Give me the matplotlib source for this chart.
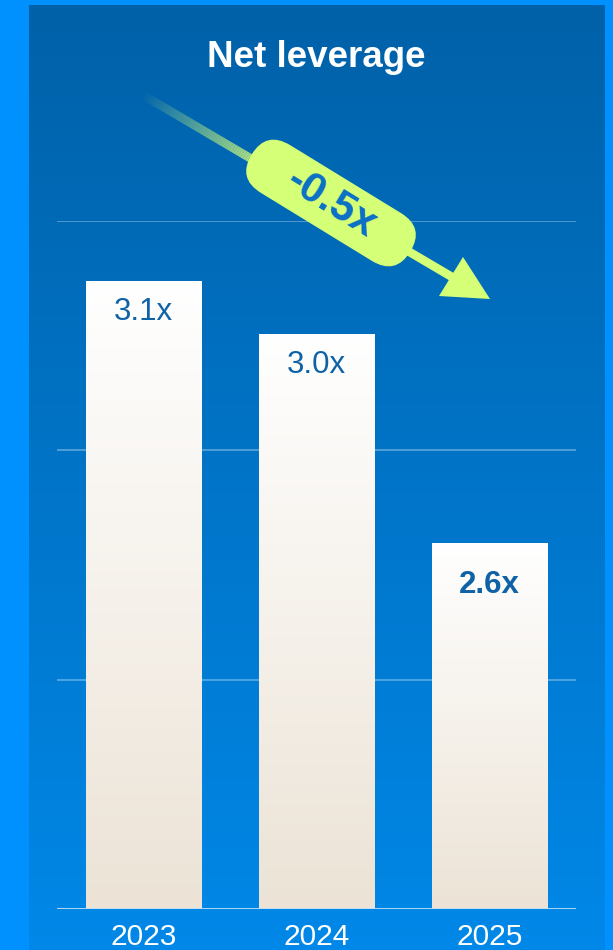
import numpy as np
import matplotlib
matplotlib.use("Agg")
import matplotlib.pyplot as plt
from matplotlib.patches import FancyBboxPatch, Polygon
from matplotlib.collections import LineCollection
from matplotlib.lines import Line2D
from matplotlib.transforms import Affine2D
from matplotlib.colors import LinearSegmentedColormap

plt.rcParams['font.family'] = ['Liberation Sans', 'DejaVu Sans']

years = ["2023", "2024", "2025"]
leverage = [3.1, 3.0, 2.6]
labels = ["3.1x", "3.0x", "2.6x"]
bold_label = [False, False, True]
change_label = "-0.5x"
title = "Net leverage"

W, H = 613, 950
fig = plt.figure(figsize=(W/100, H/100), dpi=100)
fig.patch.set_facecolor("#0091FF")

# pixel coords (x right, y down) -> figure
px = Affine2D().scale(1, -1).translate(0, H).scale(1/W, 1/H) + fig.transFigure

# background panel with vertical gradient
bg = fig.add_axes([29/W, 0, (605-29)/W, (H-5)/H])
bg.set_axis_off()
bg_cmap = LinearSegmentedColormap.from_list("bg", ["#0088E8", "#0061A8"])
bg.imshow(np.linspace(0, 1, 256)[:, None], cmap=bg_cmap, aspect="auto",
          origin="lower", extent=(0, 1, 0, 1))

# chart axes
ymin, ymax = 1.903, 3.215
ax = fig.add_axes([57/W, (H-909)/H, (576-57)/W, (909-221)/H])
ax.set_facecolor("none")
x = np.arange(len(years))
bars = ax.bar(x, np.array(leverage) - ymin, bottom=ymin, width=0.67,
              color="none", edgecolor="none", zorder=3)

bar_cmap = LinearSegmentedColormap.from_list("bar", ["#ECE3D6", "#FFFFFF"])
for b, v in zip(bars, leverage):
    x0 = b.get_x()
    im = ax.imshow(np.linspace(0, 1, 256)[:, None], cmap=bar_cmap, aspect="auto",
                   origin="lower", extent=(x0, x0 + b.get_width(), ymin, v), zorder=3)
    im.set_clip_path(b)

for xi, v, lab, bl in zip(x, leverage, labels, bold_label):
    ax.annotate(lab, (xi, v), xytext=(0, -42 if bl else -31), textcoords="offset pixels",
                ha="center", va="center", fontsize=22.5, color="#0F62A6",
                fontweight="bold" if bl else "normal", zorder=5)

ax.set_xlim(-0.5, 2.5)
ax.set_ylim(ymin, ymax)
ax.set_yticks(np.linspace(ymin, ymax, 4)[1:])
ax.yaxis.grid(True, color="white", alpha=0.3, lw=1.5)
ax.axhline(ymin, color="#BFDDF5", lw=2, zorder=4)
for s in ax.spines.values():
    s.set_visible(False)
ax.tick_params(left=False, bottom=False, labelleft=False, labelbottom=False)
for xi, yr in zip(x, years):
    ax.annotate(yr, (xi, ymin), xytext=(0, -36), textcoords="offset pixels",
                ha="center", va="baseline", fontsize=21.5, color="white",
                annotation_clip=False)

fig.text(316/W, 1 - 67/H, title, ha="center", va="baseline", fontsize=26.5,
         fontweight="bold", color="white")

# trend arrow with fading tail
lime = "#D6FF78"
p0 = np.array([143.0, 95.0])
p1 = np.array([452.0, 277.0])
fade = 0.45
n = 60
t = np.linspace(0, fade, n + 1)
pts = p0 + (p1 - p0) * t[:, None]
segs = np.stack([pts[:-1], pts[1:]], axis=1)
cols = np.tile(matplotlib.colors.to_rgba(lime), (n, 1))
cols[:, 3] = t[1:] / fade
lc = LineCollection(segs, colors=cols, linewidths=6.2, transform=px, capstyle="butt")
fig.add_artist(lc)
pm = p0 + (p1 - p0) * fade
fig.add_artist(Line2D([pm[0], p1[0]], [pm[1], p1[1]], color=lime, lw=6.2,
                      solid_capstyle="butt", transform=px))
fig.add_artist(Polygon([(439, 296), (463, 257), (490, 299)], closed=True,
                       facecolor=lime, edgecolor="none", transform=px))

cx, cy, ang = 331, 203, 31.5
L, T = 186, 56
pill = FancyBboxPatch((cx - L/2 + T/2, cy), L - T, 0,
                      boxstyle="round,pad=%g,rounding_size=%g" % (T/2, T/2),
                      facecolor=lime, edgecolor="none",
                      transform=Affine2D().rotate_deg_around(cx, cy, ang) + px)
fig.add_artist(pill)
fig.text(cx/W, 1 - cy/H, change_label, ha="center", va="center", rotation=-ang,
         rotation_mode="anchor", fontsize=31, fontweight="bold", color="#0A6FC6")

fig.savefig("out.png", dpi=100)
